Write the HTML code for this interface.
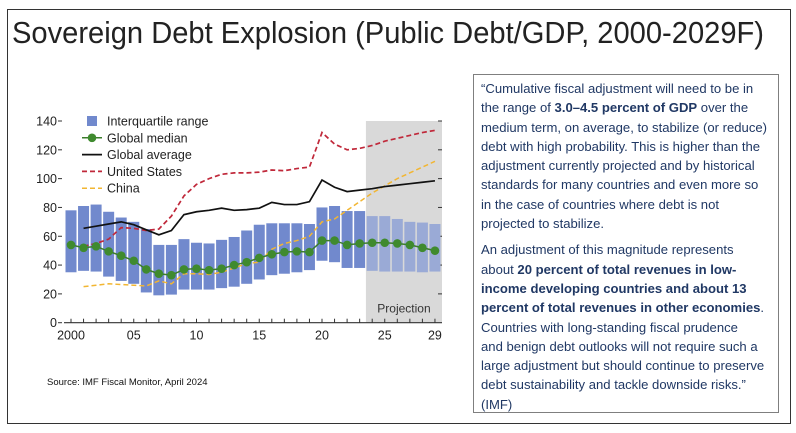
<!DOCTYPE html>
<html><head><meta charset="utf-8"><style>
body{margin:0;width:796px;height:433px;background:#fff;overflow:hidden;position:relative;font-family:"Liberation Sans",sans-serif}
#quote{position:absolute;left:473px;top:74px;width:306px;height:339px;border:1.3px solid #7f7f7f;box-sizing:border-box;padding:4px 0 0 7px;color:#203864;font-size:13.1px;line-height:19.3px;white-space:nowrap}
#quote p{margin:0 0 7px 0}
</style></head><body>
<svg width="796" height="433" style="position:absolute;left:0;top:0">
<rect x="7.5" y="9.5" width="783" height="414" fill="none" stroke="#333" stroke-width="1"/>
<text x="12" y="43" font-size="31" textLength="752" lengthAdjust="spacingAndGlyphs" fill="#222">Sovereign Debt Explosion (Public Debt/GDP, 2000-2029F)</text>
<text x="47" y="385" font-size="9.5" fill="#111">Source: IMF Fiscal Monitor, April 2024</text>
<g id="plot"></g>
</svg>
<div id="quote">
<p>“Cumulative fiscal adjustment will need to be in<br>the range of <b>3.0–4.5 percent of GDP</b> over the<br>medium term, on average, to stabilize (or reduce)<br>debt with high probability. This is higher than the<br>adjustment currently projected and by historical<br>standards for many countries and even more so<br>in the case of countries where debt is not<br>projected to stabilize.</p>
<p>An adjustment of this magnitude represents<br>about <b>20 percent of total revenues in low-<br>income developing countries and about 13<br>percent of total revenues in other economies</b>.<br>Countries with long-standing fiscal prudence<br>and benign debt outlooks will not require such a<br>large adjustment but should continue to preserve<br>debt sustainability and tackle downside risks.”<br>(IMF)</p>
</div>
<script>
const years=[2000,2001,2002,2003,2004,2005,2006,2007,2008,2009,2010,2011,2012,2013,2014,2015,2016,2017,2018,2019,2020,2021,2022,2023,2024,2025,2026,2027,2028,2029];
const iqrTop=[78,81,82,77,73,70,65,54,54,58,55.5,55,57.5,59.5,64,68,69,69,69,68.5,80,81,77.5,77.5,74,74,72,70,69.5,68.5];
const iqrBottom=[35,36,35.5,32,29,27,21,19,19.5,23,23,23,24,25,27,30,33,34,35,36.5,43,42,38,38,36,35.5,35.5,35.5,35,35.5];
const median=[54,52,53,49.5,46.5,43,37,34,33,37,37.5,36.5,37.5,40,42,45,47.5,49,49.5,49,57,57,54,55,55.5,55.5,55,54,52,50];
const lineYears=years.slice(1);
const globalAvg=[65.5,67,68.5,70,68,64.5,61,64,75,77,78,79.5,78,78.5,79.5,83.5,82,82,84,99,94,91,92,93,94.5,95.5,96.5,97.5,98.5];
const us=[53,55,58,66,65.5,64,65,74,88,96,100,103,104,104,104.5,106,105.5,107,108,132,124,120,121,123,126,128,130,132,133.5];
const china=[25,26,27,26.5,26,25.5,29,27,34,34,33.5,35,38,41,42,51,55,57,60,70,72,78,84,90,95,100,104,108,112];
const yTicks=[0,20,40,60,80,100,120,140];
const xTickLabels=[[2000,"2000"],[2005,"05"],[2010,"10"],[2015,"15"],[2020,"20"],[2025,"25"],[2029,"29"]];
const projStart=2023.5;

const NS="http://www.w3.org/2000/svg";
const g=document.getElementById('plot');
const X=yr=>71+(yr-2000)*12.55;
const Y=v=>322.7-v*(201.7/140);
function mk(tag,attrs,parent){const e=document.createElementNS(NS,tag);for(const k in attrs)e.setAttribute(k,attrs[k]);(parent||g).appendChild(e);return e;}

const shade=mk('rect',{x:X(projStart),y:Y(140),width:442-X(projStart),height:Y(0)-Y(140),fill:'#d9d9d9'});


const pt=mk('text',{x:(X(projStart)+442)/2,y:Y(7),'font-size':12,'text-anchor':'middle',fill:'#333'});
pt.textContent='Projection';



yTicks.forEach(v=>{
 const t=mk('text',{x:57,y:Y(v)+4.5,'font-size':12.5,'text-anchor':'end',fill:'#222'});
 t.textContent=v;
 
 
 mk('line',{x1:58,x2:62,y1:Y(v),y2:Y(v),stroke:'#333','stroke-width':1});
 if(v>0)mk('line',{x1:438,x2:442,y1:Y(v),y2:Y(v),stroke:'#333','stroke-width':1});
});
mk('line',{x1:64,x2:442,y1:Y(0),y2:Y(0),stroke:'#333','stroke-width':1.2});
years.forEach(yr=>mk('line',{x1:X(yr),x2:X(yr),y1:Y(0),y2:Y(0)-4,stroke:'#333','stroke-width':1}));
xTickLabels.forEach(([yr,l])=>{
 const t=mk('text',{x:X(yr),y:Y(0)+17,'font-size':12.5,'text-anchor':'middle',fill:'#222'});
 t.textContent=l;
 
 
});

years.forEach((yr,i)=>{
 const b=mk('rect',{x:X(yr)-5.5,y:Y(iqrTop[i]),width:11,height:Y(iqrBottom[i])-Y(iqrTop[i]),fill:yr>=2024?'#9aaad6':'#7189cd'});
 
 
});
function line(xs,vs,attrs,name){
 const p=mk('polyline',Object.assign({points:xs.map((yr,i)=>X(yr)+','+Y(vs[i])).join(' '),fill:'none'},attrs));
 
 
}
line(lineYears,china,{stroke:'#f2b632','stroke-width':1.5,'stroke-dasharray':'5,3'},'china-line');
line(lineYears,us,{stroke:'#c0283a','stroke-width':1.7,'stroke-dasharray':'5,3'},'us-line');
line(lineYears,globalAvg,{stroke:'#111','stroke-width':1.7},'global-average-line');
line(years,median,{stroke:'#3b7d2b','stroke-width':1.5},'global-median-line');
years.forEach((yr,i)=>{
 const c=mk('circle',{cx:X(yr),cy:Y(median[i]),r:4.3,fill:'#3f8a2e'});
 
 
});

const lg=[['Interquartile range','rect'],['Global median','med'],['Global average','avg'],['United States','us'],['China','cn']];
lg.forEach(([l,k],i)=>{
 const y=121+i*16.8;
 if(k==='rect')mk('rect',{x:87,y:y-5,width:10,height:10,fill:'#7189cd'});
 if(k==='med'){mk('line',{x1:82,x2:102,y1:y,y2:y,stroke:'#3b7d2b','stroke-width':1.5});mk('circle',{cx:92,cy:y,r:4.3,fill:'#3f8a2e'});}
 if(k==='avg')mk('line',{x1:82,x2:102,y1:y,y2:y,stroke:'#111','stroke-width':1.7});
 if(k==='us')mk('line',{x1:82,x2:102,y1:y,y2:y,stroke:'#c0283a','stroke-width':1.7,'stroke-dasharray':'5,3'});
 if(k==='cn')mk('line',{x1:82,x2:102,y1:y,y2:y,stroke:'#f2b632','stroke-width':1.5,'stroke-dasharray':'5,3'});
 const t=mk('text',{x:107,y:y+4.5,'font-size':12.5,fill:'#222'});
 t.textContent=l;
 
 
});
</script>
</body></html>
